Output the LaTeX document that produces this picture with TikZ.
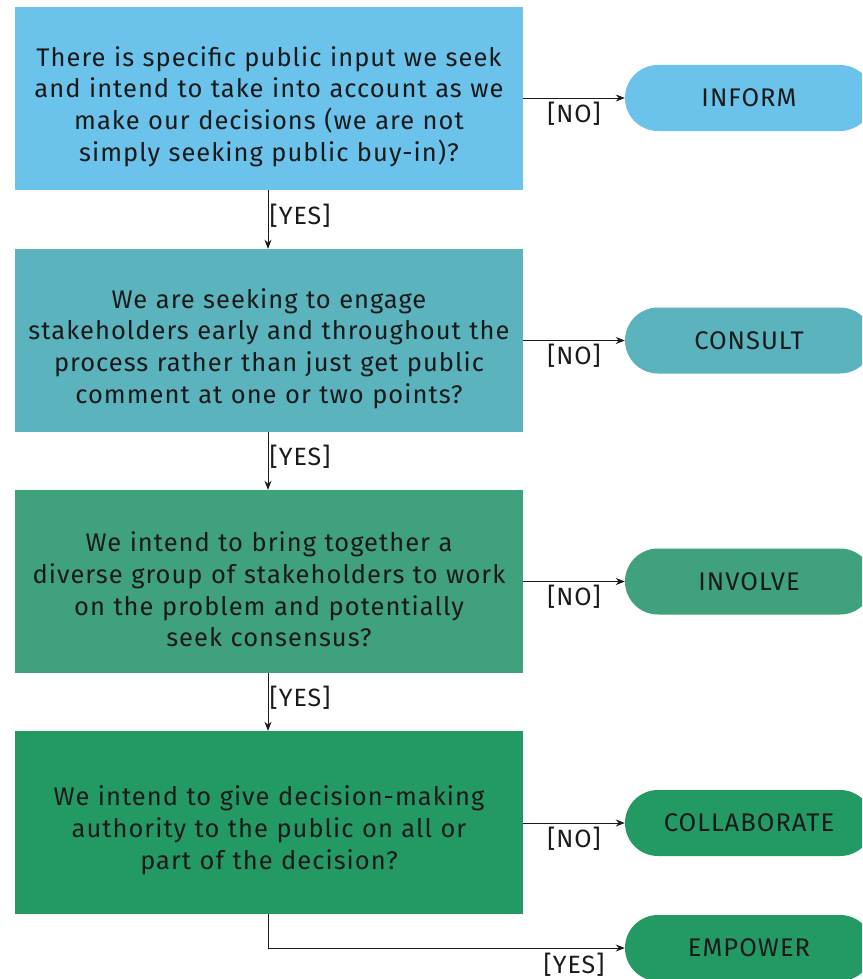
\documentclass[tikz,border=0pt]{standalone}
\usepackage{fontspec}
\setmainfont{Fira Sans}[LetterSpace=4]
\usetikzlibrary{arrows.meta}
\definecolor{cA}{HTML}{6BC2EB}
\definecolor{cB}{HTML}{5BB3BE}
\definecolor{cC}{HTML}{40A27C}
\definecolor{cD}{HTML}{239A64}
\definecolor{ink}{HTML}{1A1A1A}
\tikzset{
  qbox/.style={minimum width=508pt, minimum height=183pt, inner sep=0pt},
  qtext/.style={text width=500pt, align=center, inner sep=0pt,
    font=\fontsize{25.5}{31.8}\selectfont, text=ink},
  pill/.style={rounded corners=33pt, minimum width=248pt, minimum height=66pt, inner sep=0pt,
    font=\fontsize{25.5}{30}\selectfont, text=ink},
  conn/.style={draw=ink, line width=0.9pt, -{Stealth[length=9pt,width=7pt]}},
  lbl/.style={font=\fontsize{25}{28}\selectfont, text=ink, inner sep=0pt}
}
\begin{document}
\begin{tikzpicture}[x=1pt,y=-1pt]
\useasboundingbox (0,0) rectangle (862,979);
\clip (0,0) rectangle (862,979);
\node[qbox, fill=cA] (q1) at (269,98.5) {};
\node[qbox, fill=cB] (q2) at (269,340.5) {};
\node[qbox, fill=cC] (q3) at (269,581.5) {};
\node[qbox, fill=cD] (q4) at (269,822.5) {};
\node[qtext] (t1) at ([yshift=-8pt]q1.center) {There is specific public input we seek\\and intend to take into account as we\\make our decisions (we are not\\simply seeking public buy-in)?};
\node[qtext] (t2) at ([yshift=-8pt]q2.center) {We are seeking to engage\\stakeholders early and throughout the\\process rather than just get public\\comment at one or two points?};
\node[qtext] (t3) at ([yshift=-8pt]q3.center) {We intend to bring together a\\diverse group of stakeholders to work\\on the problem and potentially\\seek consensus?};
\node[qtext] (t4) at ([yshift=-8pt]q4.center) {We intend to give decision-making\\authority to the public on all or\\part of the decision?};
\node[pill, fill=cA] (p1) at (749,98) {INFORM};
\node[pill, fill=cB] (p2) at (749,340.5) {CONSULT};
\node[pill, fill=cC] (p3) at (749,581.5) {INVOLVE};
\node[pill, fill=cD] (p4) at (749,823) {COLLABORATE};
\node[pill, fill=cD] (p5) at (749,948) {EMPOWER};
\foreach \i in {1,2,3,4}{
  \draw[conn] (q\i.east |- p\i.west) -- (p\i.west);
}
\node[lbl] (n1) at (574,114) {[NO]};
\node[lbl] (n2) at (574,356) {[NO]};
\node[lbl] (n3) at (574,597) {[NO]};
\node[lbl] (n4) at (574,839) {[NO]};
\coordinate (x) at (268,0);
\draw[conn] (q1.south -| x) -- (q2.north -| x);
\draw[conn] (q2.south -| x) -- (q3.north -| x);
\draw[conn] (q3.south -| x) -- (q4.north -| x);
\node[lbl] (y1) at (300,216) {[YES]};
\node[lbl] (y2) at (300,457) {[YES]};
\node[lbl] (y3) at (300,698) {[YES]};
\draw[conn] (q4.south -| x) |- (p5.west);
\node[lbl] (y4) at (574,965) {[YES]};
\end{tikzpicture}
\end{document}
